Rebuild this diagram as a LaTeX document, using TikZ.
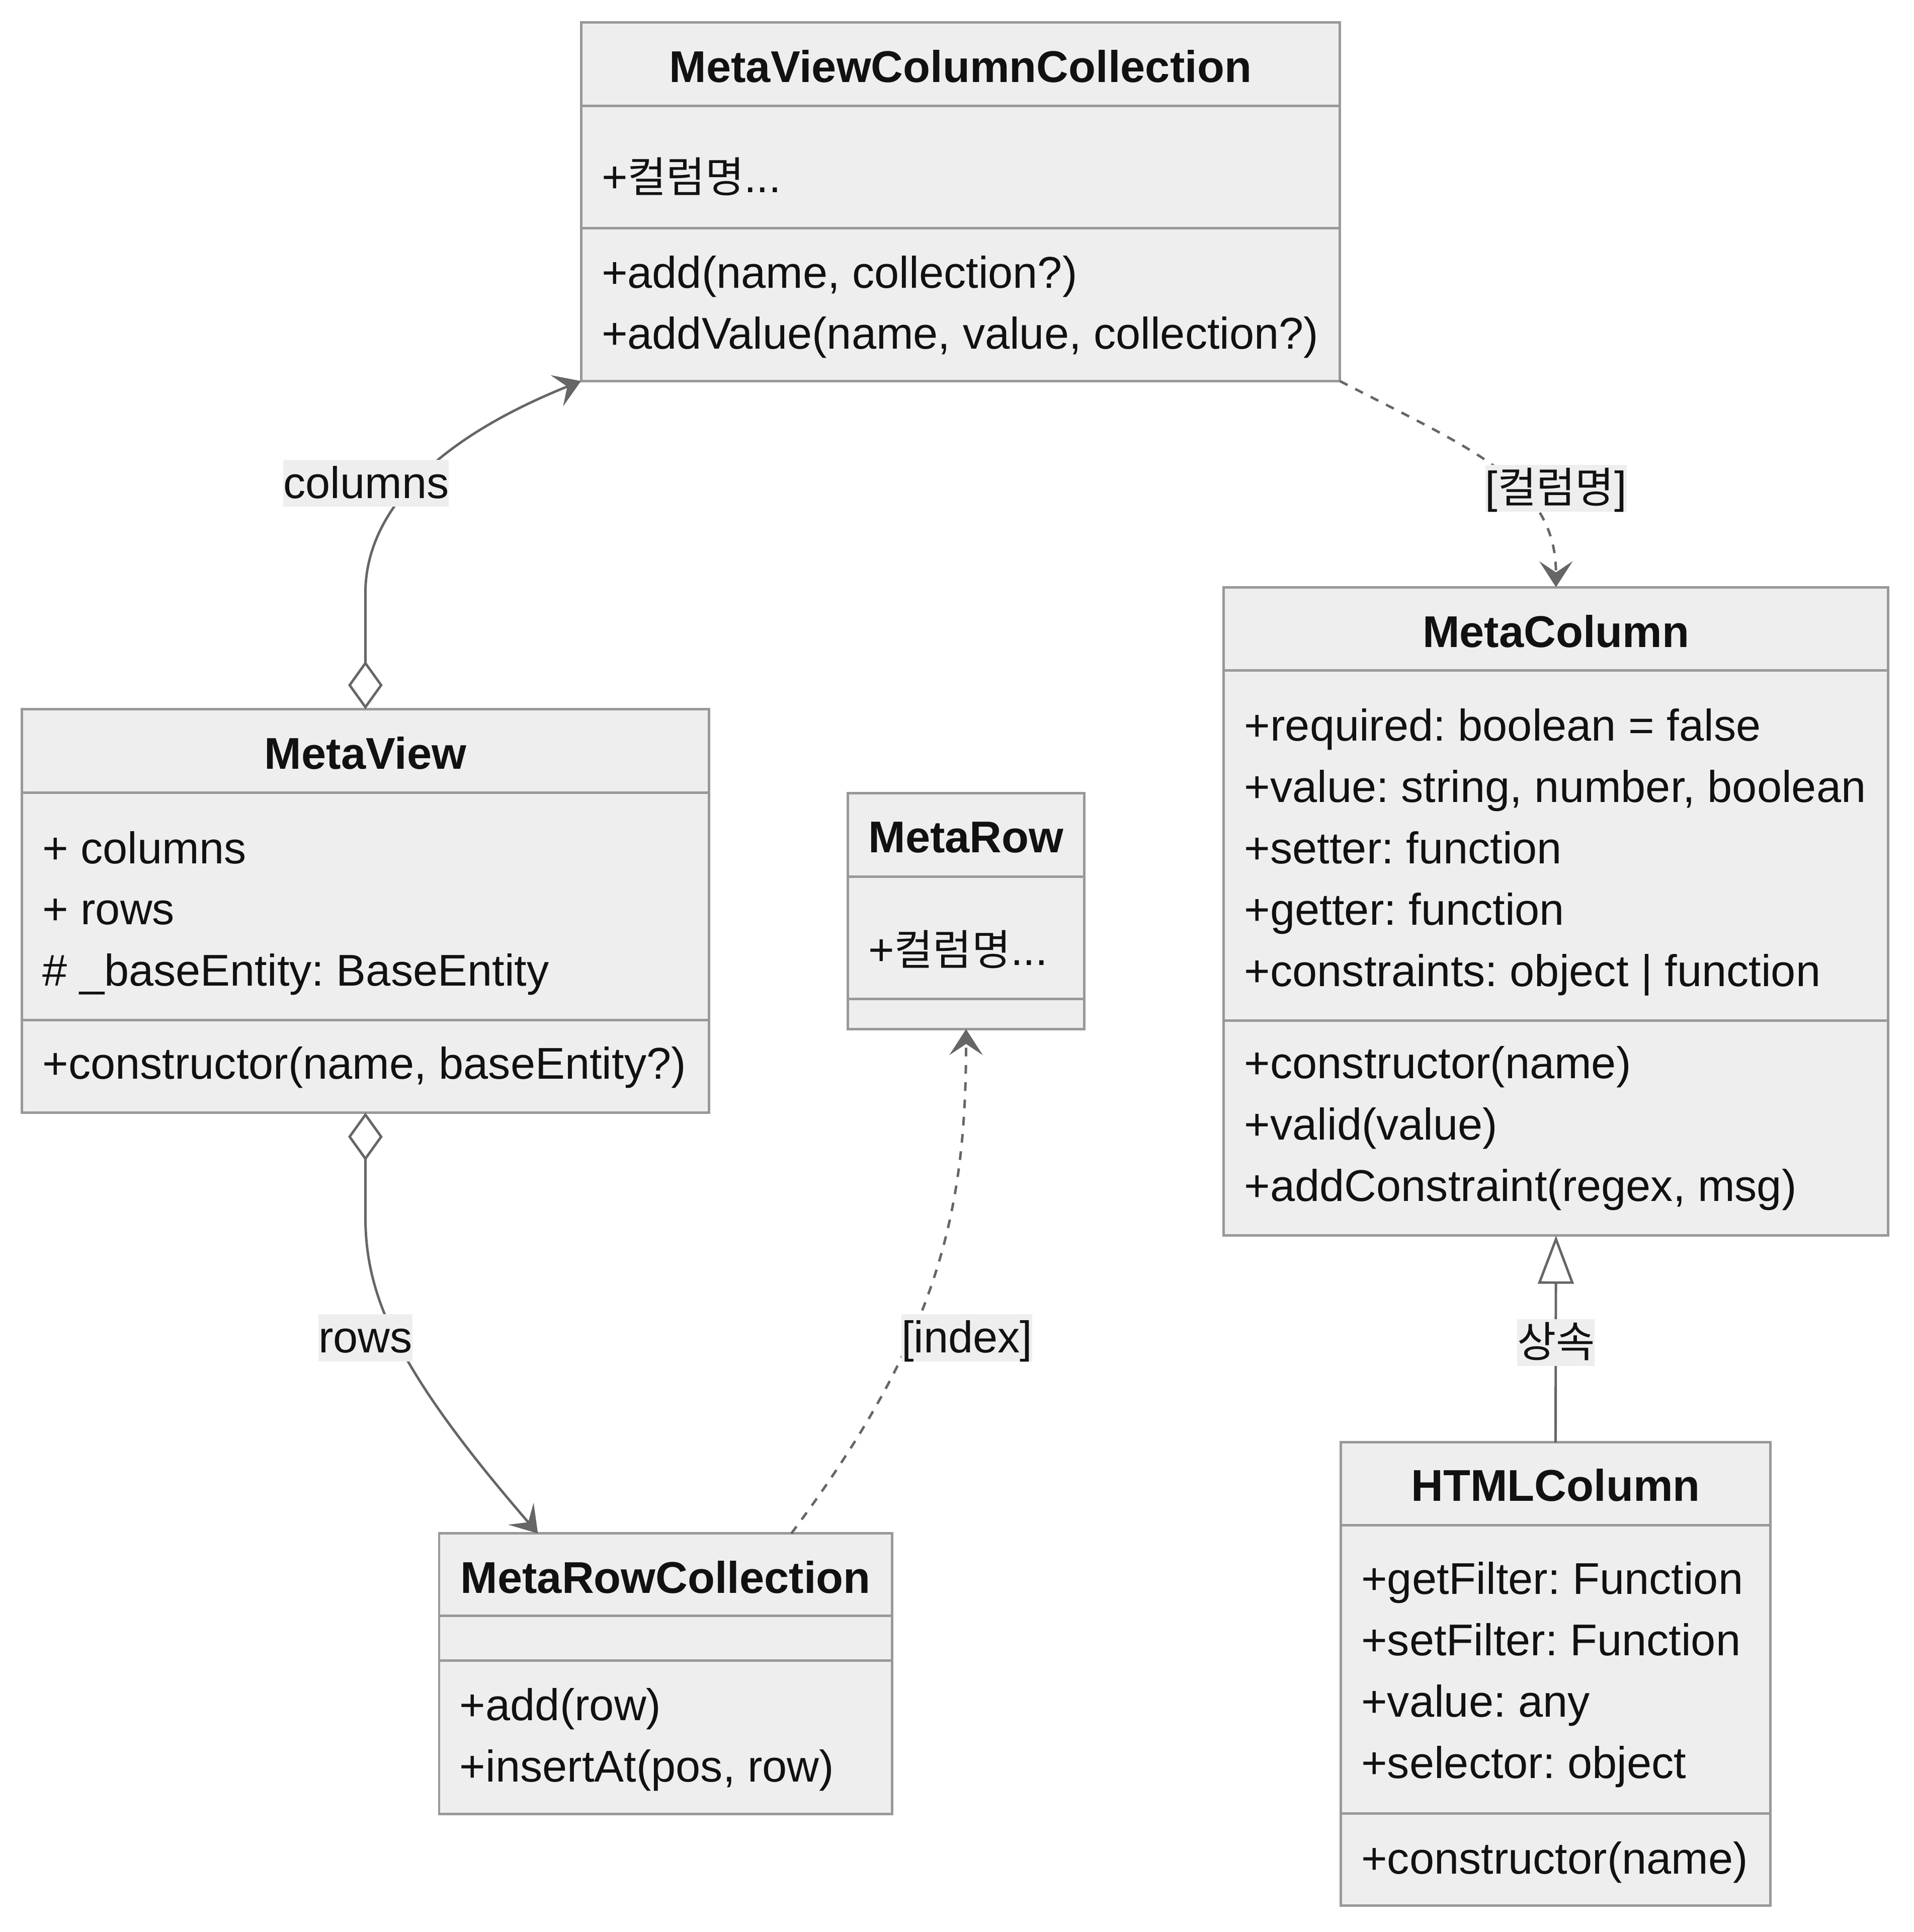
\documentclass[tikz,border=0pt]{standalone}
\usepackage{fontspec}
\setmainfont{Liberation Sans}
\newfontfamily\kr[Scale=0.95]{Noto Sans CJK KR}
\usetikzlibrary{arrows.meta}
\definecolor{boxfill}{HTML}{EEEEEE}
\definecolor{boxline}{HTML}{999999}
\definecolor{relline}{HTML}{666666}
\definecolor{txt}{HTML}{111111}
\frenchspacing
\tikzset{
  agg/.tip={Diamond[open,fill=white,length=39pt,width=28pt]},
  assoc/.tip={Stealth[length=21pt,width=27pt,inset=9pt]},
  inh/.tip={Triangle[open,fill=white,length=39pt,width=29pt]}
}

\begin{document}
\begin{tikzpicture}[x=1pt,y=-1pt,
  font=\fontsize{36}{50}\selectfont, text=txt,
  classbox/.style={draw=boxline,fill=boxfill,line width=2pt,inner sep=0pt,outer sep=0pt},
  divider/.style={draw=boxline,line width=2pt},
  member/.style={anchor=base west,inner sep=0pt},
  title/.style={anchor=base,inner sep=0pt,font=\fontsize{36}{50}\selectfont\bfseries},
  edgelabel/.style={anchor=base,fill=boxfill,inner xsep=0pt,inner ysep=0pt,text height=31pt,text depth=7pt},
  rel/.style={draw=relline,line width=2pt},
  dep/.style={rel,dash pattern=on 7pt off 7pt}]
	\useasboundingbox (0,0) rectangle (1549.9,1564.2);

	% MetaViewColumnCollection
	\node[classbox,minimum width=614.5pt,minimum height=290.4pt] (mvcc) at (777.75,163.3) {};
	\draw[divider] (mvcc.west |- 0,85.9) -- (mvcc.east |- 0,85.9);
	\draw[divider] (mvcc.west |- 0,184.7) -- (mvcc.east |- 0,184.7);
	\node[title] (mvccT) at (777.75,66.4) {MetaViewColumnCollection};
	\node[member] (mvccA1) at (487,156) {+{\kr 컬럼명}...};
	\node[member] (mvccM1) at (487,233) {+add(name, collection?)};
	\node[member] (mvccM2) at (487,282.6) {+addValue(name, value, collection?)};

	% MetaColumn
	\node[classbox,minimum width=538pt,minimum height=525pt] (mc) at (1260,737.9) {};
	\draw[divider] (mc.west |- 0,542.6) -- (mc.east |- 0,542.6);
	\draw[divider] (mc.west |- 0,826.4) -- (mc.east |- 0,826.4);
	\node[title] (mcT) at (1260,524.2) {MetaColumn};
	\node[member] (mcA1) at (1007.5,600) {+required: boolean = false};
	\node[member] (mcA2) at (1007.5,649.6) {+value: string, number, boolean};
	\node[member] (mcA3) at (1007.5,699.2) {+setter: function};
	\node[member] (mcA4) at (1007.5,748.8) {+getter: function};
	\node[member] (mcA5) at (1007.5,798.4) {+constraints: object | function};
	\node[member] (mcM1) at (1007.5,873.3) {+constructor(name)};
	\node[member] (mcM2) at (1007.5,922.9) {+valid(value)};
	\node[member] (mcM3) at (1007.5,972.5) {+addConstraint(regex, msg)};

	% MetaView
	\node[classbox,minimum width=556.4pt,minimum height=326.6pt] (mv) at (295.9,737.5) {};
	\draw[divider] (mv.west |- 0,641.8) -- (mv.east |- 0,641.8);
	\draw[divider] (mv.west |- 0,826) -- (mv.east |- 0,826);
	\node[title] (mvT) at (295.9,622.6) {MetaView};
	\node[member] (mvA1) at (34.2,699) {+ columns};
	\node[member] (mvA2) at (34.2,748.6) {+ rows};
	\node[member] (mvA3) at (34.2,798.2) {\# \_baseEntity: BaseEntity};
	\node[member] (mvM1) at (34.2,873.5) {+constructor(name, baseEntity?)};

	% MetaRow
	\node[classbox,minimum width=191.8pt,minimum height=190.9pt] (mr) at (782.3,737.75) {};
	\draw[divider] (mr.west |- 0,709.6) -- (mr.east |- 0,709.6);
	\draw[divider] (mr.west |- 0,808.7) -- (mr.east |- 0,808.7);
	\node[title] (mrT) at (782.3,690.4) {MetaRow};
	\node[member] (mrA1) at (702.9,781.4) {+{\kr 컬럼명}...};

	% MetaRowCollection
	\node[classbox,minimum width=366.8pt,minimum height=227.1pt] (mrc) at (539,1355.05) {};
	\draw[divider] (mrc.west |- 0,1308.3) -- (mrc.east |- 0,1308.3);
	\draw[divider] (mrc.west |- 0,1344.6) -- (mrc.east |- 0,1344.6);
	\node[title] (mrcT) at (539,1289.8) {MetaRowCollection};
	\node[member] (mrcM1) at (372.1,1392.9) {+add(row)};
	\node[member] (mrcM2) at (372.1,1442.5) {+insertAt(pos, row)};

	% HTMLColumn
	\node[classbox,minimum width=348pt,minimum height=375pt] (htc) at (1259.7,1355.3) {};
	\draw[divider] (htc.west |- 0,1235) -- (htc.east |- 0,1235);
	\draw[divider] (htc.west |- 0,1468.2) -- (htc.east |- 0,1468.2);
	\node[title] (htcT) at (1259.7,1215.4) {HTMLColumn};
	\node[member] (htcA1) at (1102.2,1290.8) {+getFilter: Function};
	\node[member] (htcA2) at (1102.2,1340.4) {+setFilter: Function};
	\node[member] (htcA3) at (1102.2,1390) {+value: any};
	\node[member] (htcA4) at (1102.2,1439.6) {+selector: object};
	\node[member] (htcM1) at (1102.2,1517.1) {+constructor(name)};

	% relations
	\draw[rel,agg-assoc] (mv.north) -- (295.9,480) .. controls (295.9,430) and (330,365) .. (mvcc.south west);
	\draw[rel,agg-assoc] (mv.south) -- (295.9,985) .. controls (295.9,1050) and (322,1110) .. ([xshift=80pt]mrc.north west);
	\draw[dep,-assoc] ([xshift=285.2pt]mrc.north west) .. controls (760.8,1081.5) and (782.3,980) .. (mr.south);
	\draw[dep,-assoc] (mvcc.south east) .. controls (1191.6,363.7) and (1260,390) .. (mc.north);
	\draw[rel,-inh] (htc.north) -- (mc.south);

	\node[edgelabel] (lcolumns) at (296.5,403.3) {columns};
	\node[edgelabel] (lrows) at (296,1095.1) {rows};
	\node[edgelabel] (lindex) at (783,1095.1) {[index]};
	\node[edgelabel] (lname) at (1260,407.3) {[{\kr 컬럼명}]};
	\node[edgelabel] (linherit) at (1260,1098.9) {\kr 상속};
\end{tikzpicture}
\end{document}
